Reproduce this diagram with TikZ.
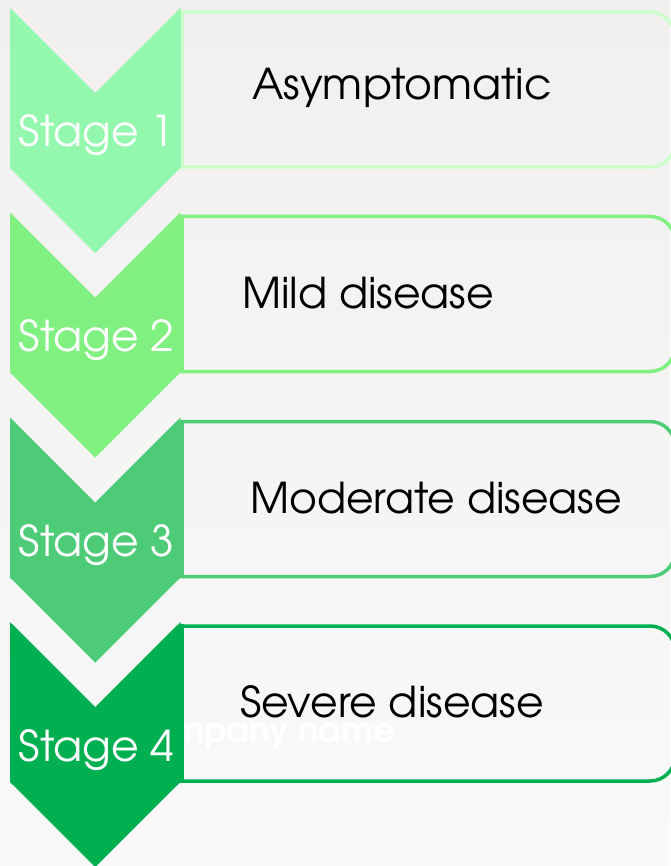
\documentclass[tikz,border=0pt]{standalone}
\usepackage{fontspec}
\setmainfont{TeX Gyre Adventor}
\usetikzlibrary{calc}

\definecolor{bgtop}{HTML}{F1F0EF}
\definecolor{bgbot}{HTML}{F9F9F9}
\definecolor{gA}{HTML}{94F7AE}
\definecolor{gB}{HTML}{80F080}
\definecolor{gC}{HTML}{4ECB77}
\definecolor{gD}{HTML}{00B050}
\definecolor{frameA}{HTML}{CCFFCC}

\tikzset{
  stagebox/.style={line width=3.5pt, rounded corners=25pt},
  stageedge/.style={line width=3.5pt},
  stagelabel/.style={anchor=base west, inner sep=0pt, text=white,
    font=\fontsize{42.5}{42.5}\selectfont},
  desclabel/.style={anchor=base west, inner sep=0pt, text=black,
    font=\fontsize{42.5}{42.5}\selectfont},
  markname/.style={anchor=base east, inner sep=0pt, text=white,
    font=\fontsize{34}{34}\selectfont\bfseries},
}

% chevron "Stage #1" (fill #2, frame #3) whose top edge lies at y=#4;
% the text box beside it has square left corners and rounded right ones
\newcommand{\stagechevron}[5]{%
  \begin{scope}
    \clip (180.25,#4-5) rectangle (680,#4+165);
    \draw[stagebox, draw=#3] (120,#4+4) rectangle (675,#4+159);
  \end{scope}
  \draw[stageedge, draw=#3] (182,#4+2.25) -- (182,#4+160.75);
  \fill[#2] (10,#4) -- (95.25,#4+85) -- (180.5,#4) -- (180.5,#4+160)
            -- (95.25,#4+245) -- (10,#4+160) -- cycle;
  \node[stagelabel] (#5) at (18,#4+139) {Stage #1};
}

\begin{document}
\begin{tikzpicture}[x=1pt, y=-1pt]
  \useasboundingbox (0,0) rectangle (670,866);
  \shade[top color=bgtop, bottom color=bgbot] (0,0) rectangle (670,866);

  % faint company watermark sits behind the last chevron
  \node[markname] (mark) at (395,742) {Company name};

  \stagechevron{1}{gA}{frameA}{8}{s1}
  \stagechevron{2}{gB}{gB}{212.5}{s2}
  \stagechevron{3}{gC}{gC}{417.5}{s3}
  \stagechevron{4}{gD}{gD}{622}{s4}

  \node[desclabel] (d1) at (252,100) {Asymptomatic};
  \node[desclabel] (d2) at (242,308) {Mild disease};
  \node[desclabel] (d3) at (250,513) {Moderate disease};
  \node[desclabel] (d4) at (240,717) {Severe disease};
\end{tikzpicture}
\end{document}
